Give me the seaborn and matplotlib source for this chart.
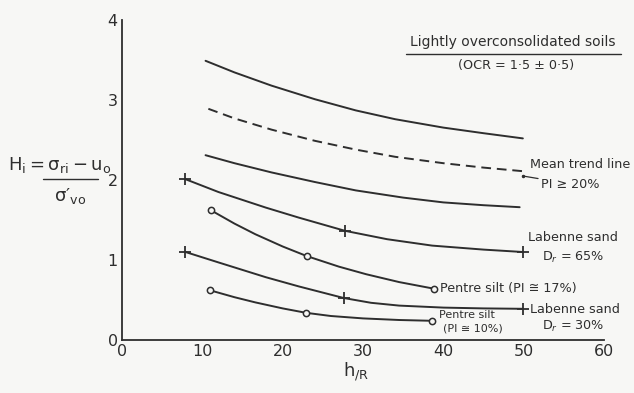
import matplotlib
matplotlib.use('Agg')
import matplotlib.pyplot as plt
import seaborn as sns
import pandas as pd
from matplotlib.lines import Line2D

# curve traces (h/R, H_i)
top_x = [10.4, 14, 18.6, 24, 29.1, 34, 40, 45, 49.9]
top_y = [3.49, 3.345, 3.18, 3.01, 2.87, 2.76, 2.655, 2.585, 2.52]
mean_x = [10.75, 14, 18.6, 24, 29.1, 34, 40, 45, 49.9]
mean_y = [2.89, 2.77, 2.63, 2.49, 2.38, 2.29, 2.21, 2.155, 2.11]
low_x = [10.4, 14, 18.6, 24, 29.1, 35, 40, 45, 49.5]
low_y = [2.31, 2.21, 2.095, 1.975, 1.87, 1.78, 1.72, 1.685, 1.66]

lab65_x = [7.9, 12, 17.9, 22, 27.75, 33, 38.6, 45, 49.9]
lab65_y = [2.01, 1.85, 1.655, 1.53, 1.365, 1.26, 1.18, 1.13, 1.10]
pen17_x = [11.1, 14, 16.6, 20, 23, 27, 30.4, 34.5, 38.9]
pen17_y = [1.62, 1.455, 1.322, 1.169, 1.049, 0.917, 0.822, 0.724, 0.64]
lab30_x = [7.9, 12, 17.9, 22, 27.6, 31, 34.5, 40, 45, 49.9]
lab30_y = [1.10, 0.97, 0.785, 0.67, 0.525, 0.465, 0.43, 0.405, 0.395, 0.39]
pen10_x = [11, 14, 16.6, 20, 22.9, 26, 30, 34.5, 38.6]
pen10_y = [0.62, 0.535, 0.47, 0.395, 0.34, 0.30, 0.27, 0.25, 0.24]

# test points marked on the curves
lab65_pts_x = [7.9, 27.75, 49.9]
lab65_pts_y = [2.01, 1.365, 1.10]
lab30_pts_x = [7.9, 27.6, 49.9]
lab30_pts_y = [1.10, 0.525, 0.39]
pen17_pts_x = [11.1, 23, 38.9]
pen17_pts_y = [1.62, 1.049, 0.64]
pen10_pts_x = [11, 22.9, 38.6]
pen10_pts_y = [0.62, 0.34, 0.24]

x_ticks = [0, 10, 20, 30, 40, 50, 60]
y_ticks = [0, 1, 2, 3, 4]

sns.set_theme(style='white')
plt.rcParams['font.family'] = ['DejaVu Sans']
plt.rcParams['mathtext.fontset'] = 'dejavusans'

ink = '#2e2e2e'
bg = '#f7f7f5'
W, H = 634, 393

fig = plt.figure(figsize=(6.34, 3.93), dpi=100, facecolor=bg)
ax = fig.add_axes([122 / W, 53 / H, (604 - 122) / W, 320 / H])
ax.set_facecolor(bg)

curves = [
    (top_x, top_y, '-'),
    (mean_x, mean_y, (0, (5, 3))),
    (low_x, low_y, '-'),
    (lab65_x, lab65_y, '-'),
    (pen17_x, pen17_y, '-'),
    (lab30_x, lab30_y, '-'),
    (pen10_x, pen10_y, '-'),
]
for xs, ys, ls in curves:
    df = pd.DataFrame({'x': xs, 'y': ys})
    sns.lineplot(data=df, x='x', y='y', sort=False, estimator=None, ax=ax,
                 color=ink, linewidth=1.4, linestyle=ls)

for xs, ys in [(lab65_pts_x, lab65_pts_y), (lab30_pts_x, lab30_pts_y)]:
    ax.plot(xs, ys, linestyle='none', marker='+', markersize=9, mew=1.3, color=ink)
for xs, ys in [(pen17_pts_x, pen17_pts_y), (pen10_pts_x, pen10_pts_y)]:
    ax.plot(xs, ys, linestyle='none', marker='o', markersize=4.5, mew=1.1,
            markerfacecolor=bg, markeredgecolor=ink)

ax.set_xlim(0, 60)
ax.set_ylim(0, 4)
ax.set_xticks(x_ticks)
ax.set_yticks(y_ticks)
ax.tick_params(direction='in', length=5, width=1.1, colors=ink, labelsize=11.5,
               pad=3)
ax.tick_params(axis='x', length=4)
for s in ['top', 'right']:
    ax.spines[s].set_visible(False)
for s in ['left', 'bottom']:
    ax.spines[s].set_color(ink)
    ax.spines[s].set_linewidth(1.3)
ax.set_xlabel('')
ax.set_ylabel('')

fig.text(343 / W, 0.025, r'$\mathregular{h_{/R}}$', ha='left', va='bottom',
         fontsize=13, color=ink)

# y label drawn as a stacked fraction
fig.text(8 / W, 1 - 165 / H, r'$\mathregular{H_i = \sigma_{ri} - u_o}$',
         ha='left', va='center', fontsize=13, color=ink)
fig.add_artist(Line2D([43 / W, 98 / W], [1 - 179 / H, 1 - 179 / H], color=ink, lw=1.0))
fig.text(70 / W, 1 - 196 / H, r"$\mathregular{σ′_{vo}}$",
         ha='center', va='center', fontsize=13, color=ink)

fs = 9.2
ax.text(48.6, 3.72, 'Lightly overconsolidated soils', ha='center', va='center',
        fontsize=10, color=ink)
ax.plot([35.3, 62.1], [3.57, 3.57], color=ink, lw=1.0, clip_on=False)
ax.text(49.1, 3.43, '(OCR = 1·5 ± 0·5)', ha='center', va='center', fontsize=fs, color=ink)

ax.text(50.8, 2.19, 'Mean trend line', ha='left', va='center', fontsize=fs, color=ink)
ax.annotate('PI ≥ 20%', xy=(49.9, 2.05), xytext=(52.2, 1.95), ha='left', va='center',
            fontsize=fs, color=ink,
            arrowprops=dict(arrowstyle='-', color=ink, lw=0.9, shrinkA=0, shrinkB=0))
ax.plot([49.9], [2.05], marker='.', markersize=3, color=ink)

ax.text(50.6, 1.28, 'Labenne sand', ha='left', va='center', fontsize=fs, color=ink)
ax.text(52.3, 1.03, r'D$_r$ = 65%', ha='left', va='center', fontsize=fs, color=ink)
ax.text(39.6, 0.64, 'Pentre silt (PI ≅ 17%)', ha='left', va='center', fontsize=fs, color=ink)
ax.text(50.8, 0.38, 'Labenne sand', ha='left', va='center', fontsize=fs, color=ink)
ax.text(52.3, 0.17, r'D$_r$ = 30%', ha='left', va='center', fontsize=fs, color=ink)
ax.text(39.4, 0.31, 'Pentre silt', ha='left', va='center', fontsize=8, color=ink)
ax.text(40.0, 0.14, '(PI ≅ 10%)', ha='left', va='center', fontsize=8, color=ink)

fig.savefig('out.png', dpi=100, facecolor=bg)
